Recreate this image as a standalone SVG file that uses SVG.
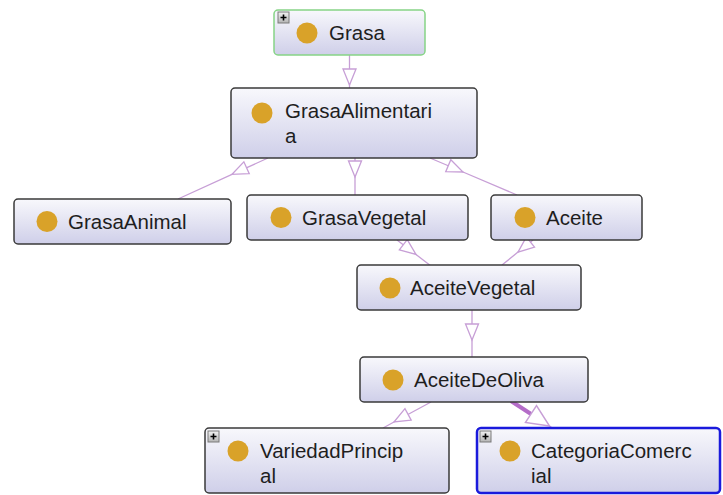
<svg xmlns="http://www.w3.org/2000/svg" width="723" height="495" viewBox="0 0 723 495">
<defs>
<linearGradient id="boxg" x1="0" y1="0" x2="0" y2="1">
<stop offset="0" stop-color="#f8f8fc"/>
<stop offset="1" stop-color="#cfcfe9"/>
</linearGradient>
<linearGradient id="plusg" x1="0" y1="0" x2="0" y2="1">
<stop offset="0" stop-color="#f2f2f2"/>
<stop offset="1" stop-color="#b4b4b4"/>
</linearGradient>
<marker id="tri" markerUnits="userSpaceOnUse" markerWidth="20" markerHeight="16" refX="16" refY="6.5" orient="auto" overflow="visible">
<path d="M0,0 L16,6.5 L0,13 Z" fill="#ffffff" stroke="#c79fd6" stroke-width="1.3"/>
</marker>
<g id="plus">
<rect x="0" y="0" width="11" height="11" fill="url(#plusg)" stroke="#7a7a7a" stroke-width="1"/>
<path d="M2.5,5.5 H8.5 M5.5,2.5 V8.5" stroke="#000" stroke-width="1.6"/>
</g>
</defs>
<style>
.box{fill:url(#boxg);stroke:#3a3a3a;stroke-width:1.5}
.dot{fill:#d9a229}
.lbl{font-family:"Liberation Sans",Arial,sans-serif;font-size:20.5px;fill:#1e1e1e}
.con{fill:none;stroke:#c79fd6;stroke-width:1.3;marker-mid:url(#tri)}
</style>
<rect width="723" height="495" fill="#ffffff"/>

<g id="connectors">
<path class="con" d="M349.5,55 L349.5,85 L349.5,88"/>
<path class="con" d="M268,158 L232,174.4 L178,199"/>
<path class="con" d="M355,158 L355,177 L355,195"/>
<path class="con" d="M430,158 L463,172 L517,195"/>
<path class="con" d="M397,240 L416,254.5 L431,266"/>
<path class="con" d="M533,240 L518,252.1 L502,265"/>
<path class="con" d="M472,310 L472,340 L472,357"/>
<path class="con" d="M431,402 L394,422 L383,428"/>
<path d="M511,401 L531,414" fill="none" stroke="#b46cc8" stroke-width="4"/>
<path d="M549.5,426 L553,428.5" fill="none" stroke="#c79fd6" stroke-width="1.3"/>
<polygon points="525.5,422.4 536.5,405.6 549.5,426" fill="#ffffff" stroke="#c79fd6" stroke-width="1.5"/>
</g>

<g id="node-grasa">
<rect x="274" y="10" width="151" height="45" rx="4" fill="url(#boxg)" stroke="#86d486" stroke-width="1.5"/>
<use href="#plus" x="278" y="12"/>
<circle class="dot" cx="307" cy="33" r="10.5"/>
<text class="lbl" x="329" y="40">Grasa</text>
</g>

<g id="node-grasaalimentaria">
<rect class="box" x="231" y="88" width="246" height="70" rx="4"/>
<circle class="dot" cx="262" cy="113" r="10.5"/>
<text class="lbl" x="285" y="118">GrasaAlimentari<tspan x="285" y="143">a</tspan></text>
</g>

<g id="node-grasaanimal">
<rect class="box" x="14" y="199" width="217" height="45" rx="4"/>
<circle class="dot" cx="47" cy="221.5" r="10.5"/>
<text class="lbl" x="68" y="229">GrasaAnimal</text>
</g>

<g id="node-grasavegetal">
<rect class="box" x="247" y="195" width="221" height="45" rx="4"/>
<circle class="dot" cx="281" cy="217.5" r="10.5"/>
<text class="lbl" x="302" y="225">GrasaVegetal</text>
</g>

<g id="node-aceite">
<rect class="box" x="491" y="195" width="151" height="45" rx="4"/>
<circle class="dot" cx="525" cy="217.5" r="10.5"/>
<text class="lbl" x="546" y="225">Aceite</text>
</g>

<g id="node-aceitevegetal">
<rect class="box" x="357" y="265" width="224" height="45" rx="4"/>
<circle class="dot" cx="390" cy="288" r="10.5"/>
<text class="lbl" x="410" y="295">AceiteVegetal</text>
</g>

<g id="node-aceitedeoliva">
<rect class="box" x="360" y="357" width="228" height="45" rx="4"/>
<circle class="dot" cx="393" cy="380" r="10.5"/>
<text class="lbl" x="414" y="387">AceiteDeOliva</text>
</g>

<g id="node-variedadprincipal">
<rect class="box" x="205" y="428" width="244" height="65" rx="4"/>
<use href="#plus" x="208" y="431"/>
<circle class="dot" cx="238" cy="451" r="10.5"/>
<text class="lbl" x="260" y="458">VariedadPrincip<tspan x="260" y="483">al</tspan></text>
</g>

<g id="node-categoriacomercial">
<rect x="477" y="428" width="243" height="65" rx="4" fill="url(#boxg)" stroke="#1a1adc" stroke-width="2.5"/>
<use href="#plus" x="480" y="431"/>
<circle class="dot" cx="510" cy="451" r="10.5"/>
<text class="lbl" x="531" y="458">CategoriaComerc<tspan x="531" y="483">ial</tspan></text>
</g>
</svg>
